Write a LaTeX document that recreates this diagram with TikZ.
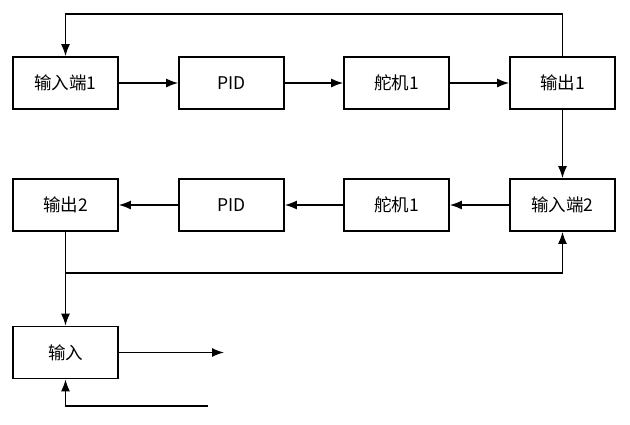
\documentclass[tikz,border=0pt]{standalone}
\usepackage{fontspec}
\newfontfamily\cjk{Noto Sans CJK SC}
\usetikzlibrary{arrows.meta}
\begin{document}
\begin{tikzpicture}[x=1pt,y=-1pt,
  blk/.style={draw, line width=1.7pt, minimum width=105pt, minimum height=52pt, inner sep=0pt, font=\cjk\fontsize{17.5}{21}\selectfont},
  conn/.style={line width=1.4pt, -{Latex[length=12pt,width=9pt]}},
  plain/.style={line width=1.4pt}]
\useasboundingbox (0,0) rectangle (630,424);
\node[blk] (in1) at (65.5,83) {输入端1};
\node[blk] (pid1) at (231.5,83) {PID};
\node[blk] (sv1) at (396.5,83) {舵机1};
\node[blk] (out1) at (562.5,83) {输出1};
\node[blk] (out2) at (65.5,205) {输出2};
\node[blk] (pid2) at (231.5,205) {PID};
\node[blk] (sv2) at (396.5,205) {舵机1};
\node[blk] (in2) at (562.5,205) {输入端2};
\node[blk] (inp) at (65.5,352.5) {输入};
\coordinate (topR) at (562.5,14);
\coordinate (topL) at (65.5,14);
\coordinate (midL) at (65.5,273);
\coordinate (midR) at (562.5,273);
\coordinate (outE) at (224,352.5);
\coordinate (botR) at (208,406);
\coordinate (botL) at (65.5,406);
\draw[conn] (in1) -- (pid1);
\draw[conn] (pid1) -- (sv1);
\draw[conn] (sv1) -- (out1);
\draw[conn] (out1.north) -- (topR) -- (topL) -- (in1.north);
\draw[conn] (out1) -- (in2);
\draw[conn] (in2) -- (sv2);
\draw[conn] (sv2) -- (pid2);
\draw[conn] (pid2) -- (out2);
\draw[conn] (out2) -- (inp);
\draw[conn] (midL) -- (midR) -- (in2.south);
\draw[conn] (inp.east) -- (outE);
\draw[conn] (botR) -- (botL) -- (inp.south);
\end{tikzpicture}
\end{document}
